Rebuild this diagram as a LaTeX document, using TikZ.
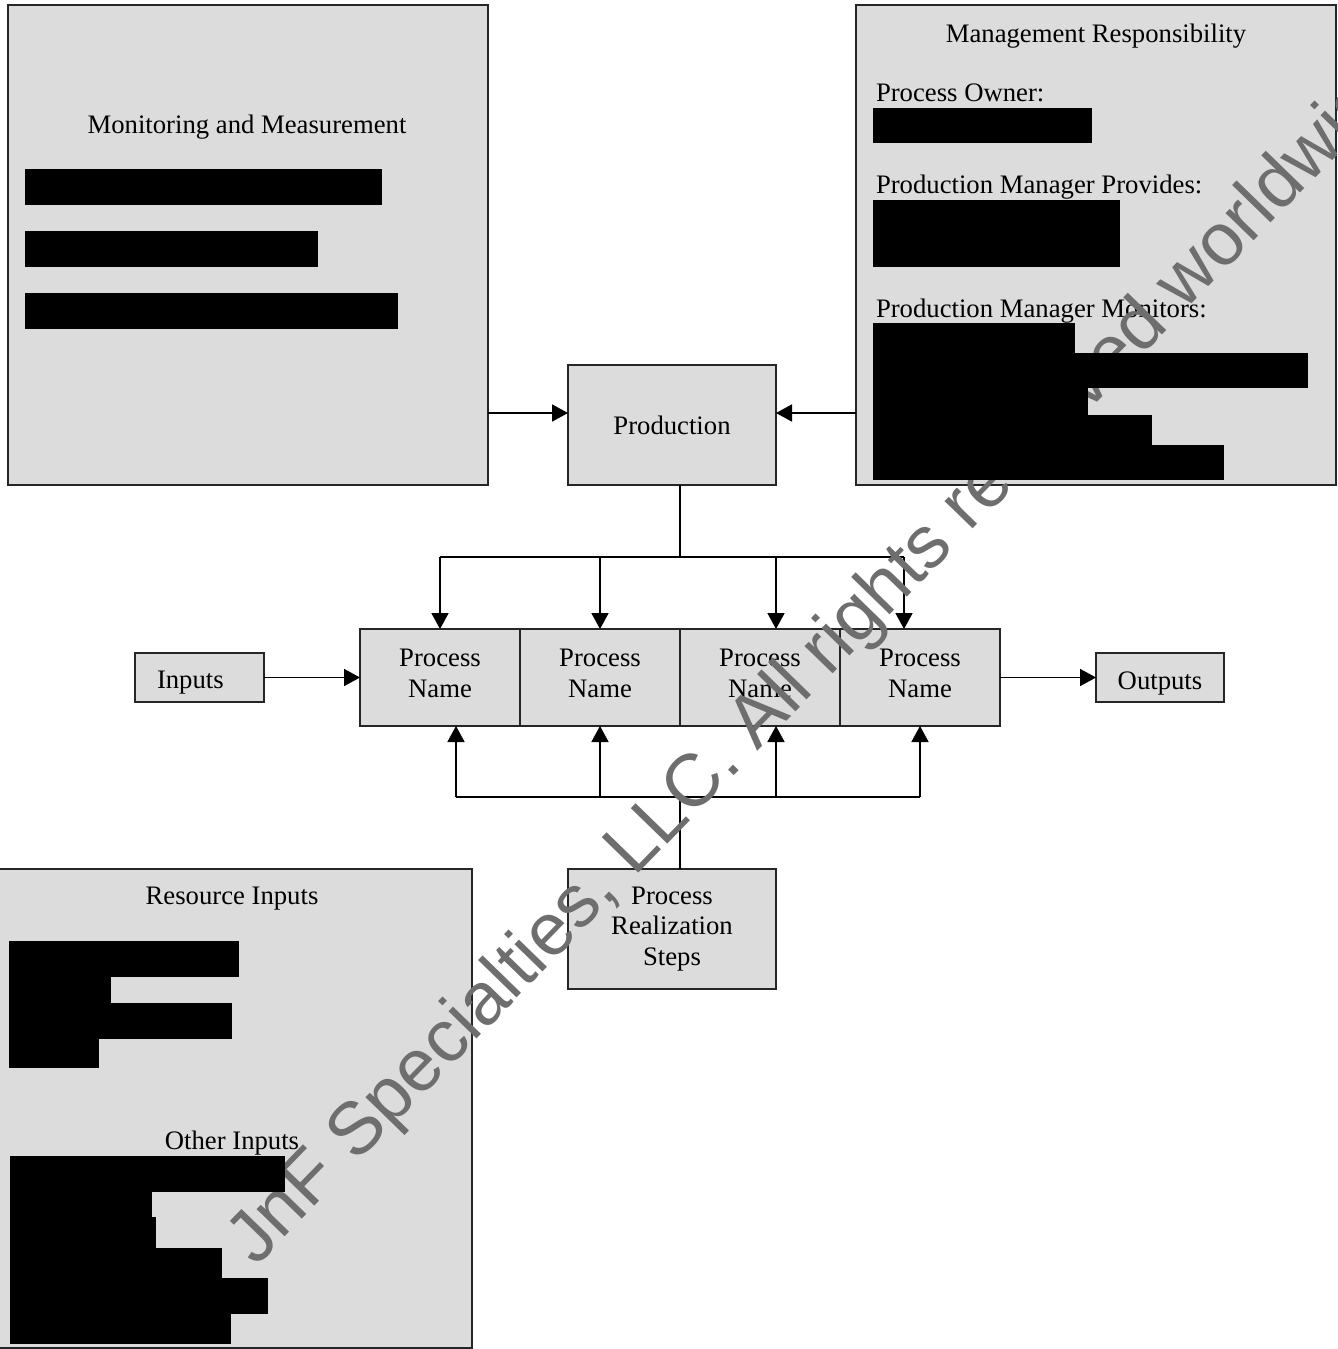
\documentclass[tikz,border=0pt]{standalone}
\usepackage{fontspec}
\setmainfont{Liberation Serif}
\newfontfamily\wmfont{Liberation Sans}
\usetikzlibrary{arrows.meta,calc}
\definecolor{boxgray}{HTML}{DCDCDC}
\definecolor{wmgray}{HTML}{6E6E6E}
\begin{document}
\begin{tikzpicture}[x=1pt,y=-1pt,
  box/.style={draw=black!85, line width=1.5pt, fill=boxgray, inner sep=0pt, outer sep=0pt},
  txt/.style={font=\fontsize{26.7}{31}\selectfont, inner sep=0pt, outer sep=0pt, anchor=base},
  ltxt/.style={txt, anchor=base west},
  conn/.style={line width=1.8pt},
  arr/.style={line width=1.8pt, -{Triangle[length=16pt,width=17pt]}},
  wm/.style={font=\wmfont\fontsize{74}{80}\selectfont, text=wmgray, inner sep=0pt, outer sep=0pt, anchor=base west, rotate=45.8}]
\useasboundingbox (0,0) rectangle (1338,1349);
\fill[white] (0,0) rectangle (1338,1349);
\begin{scope}
\clip (0,0) rectangle (1338,1349);
% boxes
\node[box, minimum width=480pt, minimum height=480pt] (mon) at (248,245) {};
\node[box, minimum width=480pt, minimum height=480pt] (mgmt) at (1096,245) {};
\node[box, minimum width=208pt, minimum height=120pt, font=\fontsize{26.7}{31}\selectfont] (prod) at (672,425) {Production};
\node[box, minimum width=160pt, minimum height=97pt] (p1) at (440,677.5) {};
\node[box, minimum width=160pt, minimum height=97pt] (p2) at (600,677.5) {};
\node[box, minimum width=160pt, minimum height=97pt] (p3) at (760,677.5) {};
\node[box, minimum width=160pt, minimum height=97pt] (p4) at (920,677.5) {};
\node[box, minimum width=129pt, minimum height=49pt] (inp) at (199.5,677.5) {};
\node[box, minimum width=128pt, minimum height=49pt] (out) at (1160,677.5) {};
\node[box, minimum width=208pt, minimum height=120pt] (prs) at (672,929) {};
\node[box, minimum width=474pt, minimum height=479pt] (res) at (235,1108.5) {};
% texts
\node[txt] (tmon) at (247,133) {Monitoring and Measurement};
\node[txt] (tmgmt) at (1096,42) {Management Responsibility};
\node[ltxt] (towner) at (876,101) {Process Owner:};
\node[ltxt] (tprov) at (876,193) {Production Manager Provides:};
\node[ltxt] (tmonit) at (876,317) {Production Manager Monitors:};
\node[txt] (p1a) at (440,666) {Process};
\node[txt] (p1b) at (440,697) {Name};
\node[txt] (p2a) at (600,666) {Process};
\node[txt] (p2b) at (600,697) {Name};
\node[txt] (p3a) at (760,666) {Process};
\node[txt] (p3b) at (760,697) {Name};
\node[txt] (p4a) at (920,666) {Process};
\node[txt] (p4b) at (920,697) {Name};
\node[ltxt] (tinp) at (157,688) {Inputs};
\node[txt] (tout) at (1160,689) {Outputs};
\node[txt] (prsa) at (672,904) {Process};
\node[txt] (prsb) at (672,934) {Realization};
\node[txt] (prsc) at (672,965) {Steps};
\node[txt] (tres) at (232,904) {Resource Inputs};
\node[txt] (toth) at (232,1149) {Other Inputs};
% connectors
\draw[arr] ([yshift=12pt]prod.west -| mon.east) -- ([yshift=12pt]prod.west);
\draw[arr] ([yshift=12pt]prod.east -| mgmt.west) -- ([yshift=12pt]prod.east);
\coordinate (tb) at ($(prod.south)+(8,72)$);
\coordinate (bb) at ($(prs.north)+(8,-72)$);
\coordinate (d3) at ($(p3.north)+(16,0)$);
\coordinate (d4) at ($(p4.north)+(-16,0)$);
\coordinate (u1) at ($(p1.south)+(16,0)$);
\coordinate (u3) at ($(p3.south)+(16,0)$);
\draw[conn] ([xshift=8pt]prod.south) -- (tb);
\draw[conn] (tb -| p1.north) -- (tb -| d4);
\draw[arr] (tb -| p1.north) -- (p1.north);
\draw[arr] (tb -| p2.north) -- (p2.north);
\draw[arr] (tb -| d3) -- (d3);
\draw[arr] (tb -| d4) -- (d4);
\draw[conn] ([xshift=8pt]prs.north) -- (bb);
\draw[conn] (bb -| u1) -- (bb -| p4.south);
\draw[arr] (bb -| u1) -- (u1);
\draw[arr] (bb -| p2.south) -- (p2.south);
\draw[arr] (bb -| u3) -- (u3);
\draw[arr] (bb -| p4.south) -- (p4.south);
\draw[arr] (inp.east) -- (p1.west);
\draw[arr] (p4.east) -- (out.west);
% watermark
\node[wm] (wmark) at (256,1267) {JnF Specialties, LLC. All rights reserved worldwide};
% redactions
\fill[black] (25,169) rectangle (382,205);
\fill[black] (25,231) rectangle (318,267);
\fill[black] (25,293) rectangle (398,329);
\fill[black] (873,108) rectangle (1092,143);
\fill[black] (873,200) rectangle (1120,267);
\fill[black] (873,323) rectangle (1075,353);
\fill[black] (873,353) rectangle (1308,388);
\fill[black] (873,388) rectangle (1088,415);
\fill[black] (873,415) rectangle (1152,445);
\fill[black] (873,445) rectangle (1224,480);
\fill[black] (9,941) rectangle (239,977);
\fill[black] (9,977) rectangle (111,1003);
\fill[black] (9,1003) rectangle (232,1039);
\fill[black] (9,1039) rectangle (99,1068);
\fill[black] (10,1156) rectangle (285,1192);
\fill[black] (10,1192) rectangle (152,1217);
\fill[black] (10,1217) rectangle (156,1248);
\fill[black] (10,1248) rectangle (222,1278);
\fill[black] (10,1278) rectangle (268,1314);
\fill[black] (10,1314) rectangle (231,1344);
\end{scope}
\end{tikzpicture}
\end{document}
